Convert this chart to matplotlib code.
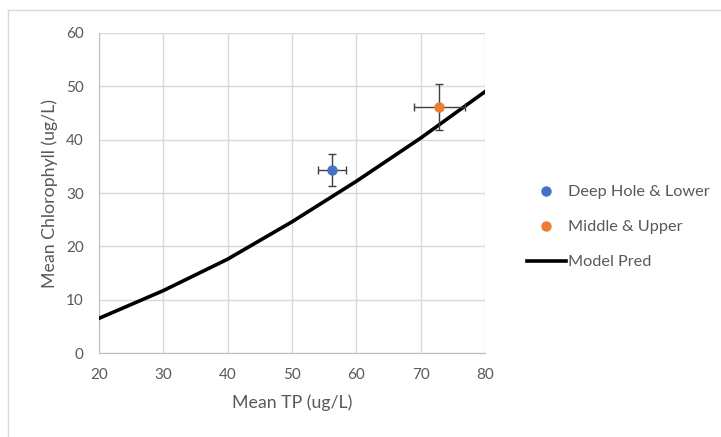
import numpy as np
import matplotlib
matplotlib.use('Agg')
import matplotlib.pyplot as plt
from matplotlib.lines import Line2D

# observed means with error bars
groups = ['Deep Hole & Lower', 'Middle & Upper']
tp_mean = [56.2, 72.9]
tp_err = [2.2, 4.0]
chl_mean = [34.3, 46.1]
chl_err = [3.0, 4.3]
colors = ['#4472C4', '#ED7D31']

# model prediction curve
model_tp = [20, 30, 40, 50, 60, 70, 80]
model_chl = [6.5, 11.7, 17.6, 24.6, 32.2, 40.3, 49.0]

plt.rcParams['font.family'] = ['Lato', 'DejaVu Sans']

fig = plt.figure(figsize=(7.21, 4.37), dpi=100)
ax = fig.add_axes([0.1373, 0.1922, 0.6727 - 0.1373, 0.9245 - 0.1922])

ax.plot(model_tp, model_chl, color='black', lw=2.6, zorder=3)
for i in range(len(groups)):
    ax.errorbar(tp_mean[i], chl_mean[i], xerr=tp_err[i], yerr=chl_err[i],
                fmt='o', color=colors[i], ms=6.5, ecolor='#404040', elinewidth=1,
                capsize=3, capthick=1, zorder=4)

ax.set_xlim(20, 80)
ax.set_ylim(0, 60)
ax.set_xticks(np.arange(20, 81, 10))
ax.set_yticks(np.arange(0, 61, 10))
ax.grid(True, color='#d9d9d9', lw=1)
ax.set_axisbelow(True)
for s in ['top', 'right']:
    ax.spines[s].set_visible(False)
for s in ['left', 'bottom']:
    ax.spines[s].set_color('#bfbfbf')
ax.tick_params(length=0, labelsize=11, colors='#595959')
ax.tick_params(axis='y', pad=11)
ax.tick_params(axis='x', pad=11)
ax.set_xlabel('Mean TP (ug/L)', fontsize=12.8, color='#595959', labelpad=9)
ax.set_ylabel('Mean Chlorophyll (ug/L)', fontsize=12.8, color='#595959', labelpad=6)

handles = [Line2D([], [], ls='none', marker='o', ms=6.5, color=colors[0]),
           Line2D([], [], ls='none', marker='o', ms=6.5, color=colors[1]),
           Line2D([], [], color='black', lw=2.6)]
labels = groups + ['Model Pred']
fig.legend(handles, labels, loc='upper left', bbox_to_anchor=(0.71, 0.61),
           frameon=False, fontsize=11.7, labelcolor='#595959', handlelength=2.45,
           handletextpad=0.12, labelspacing=1.27)

# outer chart border
fig.add_artist(Line2D([0.011, 1.0], [0.977, 0.977], color='#d9d9d9', lw=1,
                      transform=fig.transFigure))
fig.add_artist(Line2D([0.011, 0.011], [0.0, 0.977], color='#d9d9d9', lw=1,
                      transform=fig.transFigure))

fig.savefig('out.png', dpi=100)
